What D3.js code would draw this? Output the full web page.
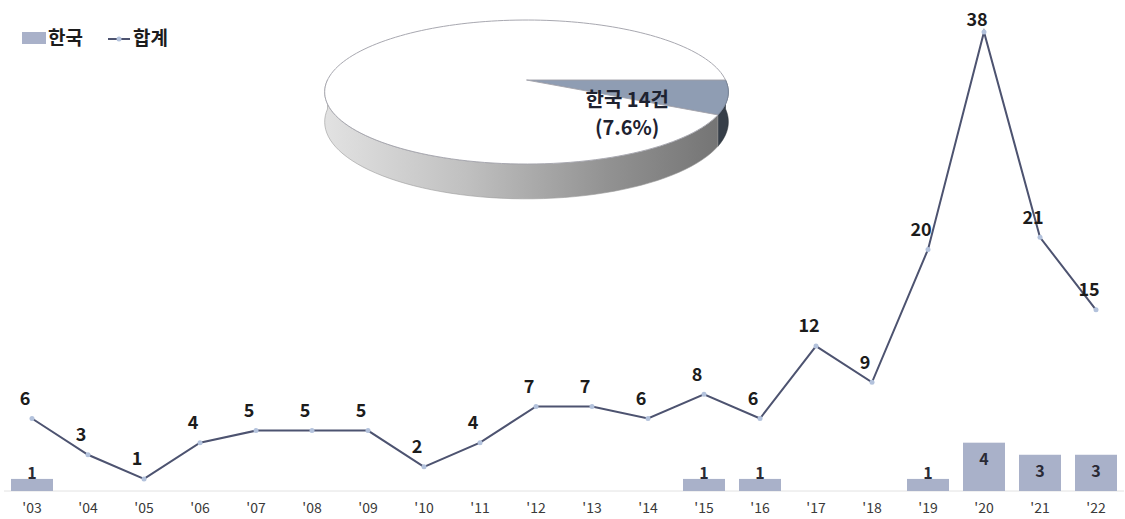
<!DOCTYPE html>
<html><head><meta charset="utf-8">
<script src="https://cdn.jsdelivr.net/npm/d3@7"></script>
<style>
html,body{margin:0;padding:0;background:#fff;}
text{font-family:"Noto Sans CJK KR","Noto Sans",sans-serif;}
</style></head>
<body><svg id="c" width="1125" height="519"></svg>
<script>
const years = ["'03","'04","'05","'06","'07","'08","'09","'10","'11","'12","'13","'14","'15","'16","'17","'18","'19","'20","'21","'22"];
const korea = [1,0,0,0,0,0,0,0,0,0,0,0,1,1,0,0,1,4,3,3];
const total = [6,3,1,4,5,5,5,2,4,7,7,6,8,6,12,9,20,38,21,15];
const legendLabels = ["한국","합계"];
const pieLabels = ["한국","기타"];
const pieValues = [d3.sum(korea), d3.sum(total) - d3.sum(korea)];

const svg = d3.select("#c");
const x = d3.scaleBand().domain(years).range([4, 1124]).paddingInner(0.25).paddingOuter(0.125);
const y = d3.scaleLinear().domain([0, 38]).range([491, 32]);

// ---------- 3D pie ----------
const P = {cx: 526.5, cy: 80, A: 199, B: 70, k: 0.167, D: 29};
function proj(t, r, z) {
  const u = r * Math.cos(t), v = r * Math.sin(t);
  const p = 1 / (1 - P.k * v);
  return [P.cx + P.A * u * p, P.cy + P.B * v * p + z * p];
}
const pie = d3.pie().sort(null).startAngle(Math.PI / 2).endAngle(Math.PI / 2 + 2 * Math.PI);
const arcs = pie(pieValues);
const toPlane = a => a - Math.PI / 2;
const defs = svg.append("defs");
const g1 = defs.append("linearGradient").attr("id", "gside").attr("gradientUnits", "userSpaceOnUse")
  .attr("x1", 325).attr("x2", 728).attr("y1", 0).attr("y2", 0);
g1.append("stop").attr("offset", 0).attr("stop-color", "#e2e2e2");
g1.append("stop").attr("offset", 0.35).attr("stop-color", "#c0c0c0");
g1.append("stop").attr("offset", 0.7).attr("stop-color", "#929292");
g1.append("stop").attr("offset", 1).attr("stop-color", "#727272");
const line = d3.line();
const pieG = svg.append("g");
const sideFill = ["#363e48", "url(#gside)"];
const topFill = ["#8f9db3", "#ffffff"];
arcs.forEach((a, i) => {
  const s = toPlane(a.startAngle), e = toPlane(a.endAngle);
  const segs = [];
  [[0, Math.PI], [2 * Math.PI, 3 * Math.PI]].forEach(([lo, hi]) => {
    const ss = Math.max(s, lo), ee = Math.min(e, hi);
    if (ee > ss) segs.push([ss, ee]);
  });
  segs.forEach(([ss, ee]) => {
    const n = 60;
    const ts = d3.range(n + 1).map(j => ss + (ee - ss) * j / n);
    const pts = ts.map(t => proj(t, 1, 0)).concat(ts.slice().reverse().map(t => proj(t, 1, P.D)));
    pieG.append("path").attr("d", line(pts) + "Z").attr("fill", sideFill[i])
      .attr("stroke", i === 0 ? "#2a3038" : "#9a9a9a").attr("stroke-width", 0.6);
  });
});
arcs.forEach((a, i) => {
  const s = toPlane(a.startAngle), e = toPlane(a.endAngle);
  const n = 160;
  const pts = [proj(0, 0, 0)].concat(d3.range(n + 1).map(j => proj(s + (e - s) * j / n, 1, 0)));
  pieG.append("path").attr("d", line(pts) + "Z").attr("fill", topFill[i])
    .attr("stroke", i === 0 ? "#7d8aa0" : "#a8a8b0").attr("stroke-width", 1);
});
const ka = arcs[0];
const mid = toPlane((ka.startAngle + ka.endAngle) / 2);
const lp = proj(mid, 0.55, 0);
const pl = pieG.append("text").attr("y", lp[1] + 18)
  .attr("text-anchor", "middle").attr("font-size", 20).attr("font-weight", 700).attr("fill", "#1e2230");
pl.append("tspan").attr("x", lp[0] - 8).attr("dy", 0).text(pieLabels[0] + " " + pieValues[0] + "건");
pl.append("tspan").attr("x", lp[0] - 8).attr("dy", 28)
  .text("(" + d3.format(".1f")(pieValues[0] / d3.sum(pieValues) * 100) + "%)");

// ---------- axis ----------
svg.append("line").attr("x1", 4).attr("x2", 1124).attr("y1", y(0)).attr("y2", y(0))
  .attr("stroke", "#e2e2e2").attr("stroke-width", 1);
const ax = svg.append("g").attr("transform", `translate(0,${y(0)})`)
  .call(d3.axisBottom(x).tickSize(0).tickPadding(12));
ax.select(".domain").remove();
ax.selectAll("text").attr("font-size", 14).attr("fill", "#3a3a3a")
  .style("font-family", "'Noto Sans CJK KR',sans-serif");

// ---------- bars ----------
const bd = years.map((yr, i) => ({yr, v: korea[i]})).filter(d => d.v > 0);
svg.append("g").selectAll("rect").data(bd).join("rect")
  .attr("x", d => x(d.yr)).attr("width", x.bandwidth())
  .attr("y", d => y(d.v)).attr("height", d => y(0) - y(d.v))
  .attr("fill", "#a9b1c9");
svg.append("g").selectAll("text").data(bd).join("text")
  .attr("x", d => x(d.yr) + x.bandwidth() / 2)
  .attr("y", d => Math.min(y(d.v) + 17, y(0) - 18))
  .attr("dy", "0.35em").attr("text-anchor", "middle")
  .attr("font-size", 16).attr("font-weight", 700).attr("fill", "#2a2a35")
  .text(d => d.v);

// ---------- line ----------
const ld = years.map((yr, i) => ({yr, v: total[i]}));
const cxp = d => x(d.yr) + x.bandwidth() / 2;
svg.append("path").datum(ld)
  .attr("d", d3.line().x(cxp).y(d => y(d.v)))
  .attr("fill", "none").attr("stroke", "#4d5370").attr("stroke-width", 2);
svg.append("g").selectAll("circle").data(ld).join("circle")
  .attr("cx", cxp).attr("cy", d => y(d.v)).attr("r", 2.5).attr("fill", "#b3c2dc");
svg.append("g").selectAll("text").data(ld).join("text")
  .attr("x", d => cxp(d) - 7).attr("y", d => Math.max(y(d.v) - 20, 20))
  .attr("dy", "0.35em").attr("text-anchor", "middle")
  .attr("font-size", 18).attr("font-weight", 700).attr("fill", "#1c1c1c")
  .text(d => d.v);

// ---------- legend ----------
const lg = svg.append("g");
lg.append("rect").attr("x", 22).attr("y", 32).attr("width", 24).attr("height", 12).attr("fill", "#a9b1c9");
lg.append("text").attr("x", 48).attr("y", 38).attr("dy", "0.35em").attr("font-size", 19)
  .attr("font-weight", 700).attr("fill", "#1c1c1c").text(legendLabels[0]);
lg.append("line").attr("x1", 108).attr("x2", 130).attr("y1", 39).attr("y2", 39)
  .attr("stroke", "#4d5370").attr("stroke-width", 2);
lg.append("circle").attr("cx", 119).attr("cy", 39).attr("r", 2.5).attr("fill", "#b3c2dc");
lg.append("text").attr("x", 133).attr("y", 38).attr("dy", "0.35em").attr("font-size", 19)
  .attr("font-weight", 700).attr("fill", "#1c1c1c").text(legendLabels[1]);
</script></body></html>
